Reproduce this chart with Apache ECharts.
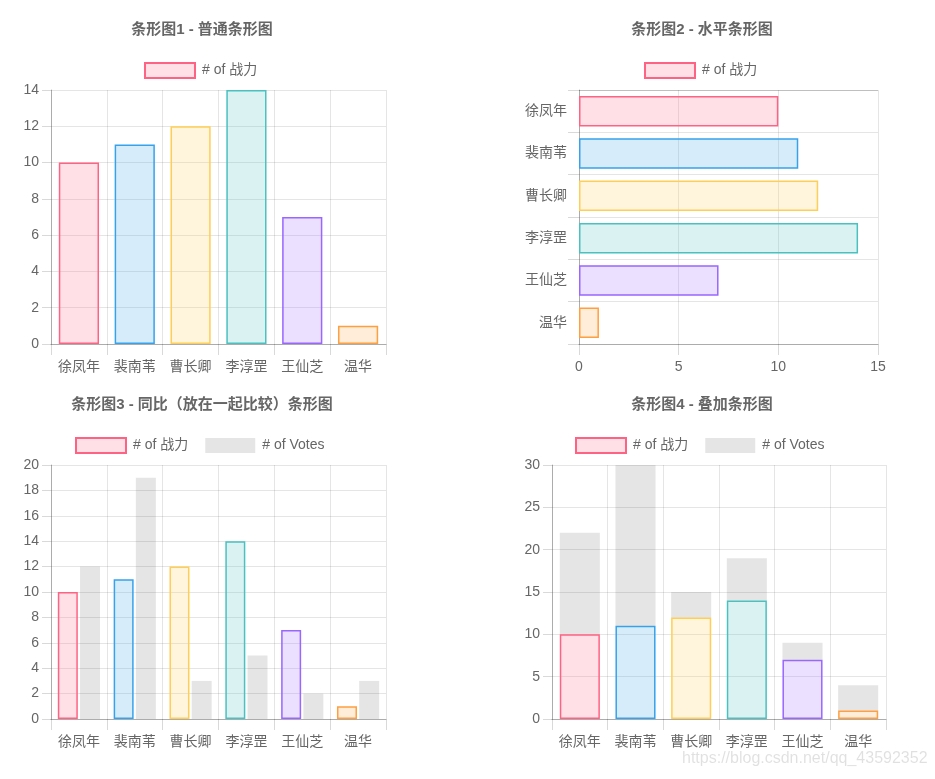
<!DOCTYPE html>
<html>
<head>
<meta charset="utf-8">
<script src="https://cdn.jsdelivr.net/npm/echarts@6/dist/echarts.min.js"></script>
<style>
  html, body { margin: 0; padding: 0; background: #fff; }
  #main { width: 935px; height: 779px; }
</style>
</head>
<body>
<div id="main"></div>
<script>
  // 数据
  const names = ['徐凤年', '裴南苇', '曹长卿', '李淳罡', '王仙芝', '温华']
  const power = [10, 11, 12, 14, 7, 1]
  const votes = [12, 19, 3, 5, 2, 3]
  const titles = ['条形图1 - 普通条形图', '条形图2 - 水平条形图', '条形图3 - 同比（放在一起比较）条形图', '条形图4 - 叠加条形图']
  const powerName = '# of 战力'
  const votesName = '# of Votes'

  // 颜色 (chart.js 常用色)
  const fills = ['rgba(255,99,132,0.2)', 'rgba(54,162,235,0.2)', 'rgba(255,206,86,0.2)',
    'rgba(75,192,192,0.2)', 'rgba(153,102,255,0.2)', 'rgba(255,159,64,0.2)']
  const borders = ['rgb(255,99,132)', 'rgb(54,162,235)', 'rgb(255,206,86)',
    'rgb(75,192,192)', 'rgb(153,102,255)', 'rgb(255,159,64)']
  const gray = 'rgba(0,0,0,0.1)'
  const grid = 'rgba(0,0,0,0.1)'
  const tick = 'rgba(0,0,0,0.15)'
  const axisDark = 'rgba(0,0,0,0.25)'
  const font = 'Liberation Sans, Arial, Noto Sans CJK SC, sans-serif'

  const chart = echarts.init(document.getElementById('main'))

  // 每个柱子单独颜色
  const colored = (vals) => vals.map((v, i) => ({
    value: v,
    itemStyle: { color: fills[i], borderColor: borders[i], borderWidth: 1.5 }
  }))
  const powerStyle = { color: fills[0], borderColor: borders[0], borderWidth: 1.5 }

  const catAxis = (gridIndex) => ({
    type: 'category',
    gridIndex,
    data: names,
    axisLine: { lineStyle: { color: axisDark } },
    axisTick: { show: true, length: 11, lineStyle: { color: tick } },
    axisLabel: { color: '#666', fontSize: 14, fontFamily: font, margin: 16 },
    splitLine: { show: true, lineStyle: { color: grid } }
  })
  const valAxis = (gridIndex, max, interval) => ({
    type: 'value',
    gridIndex,
    min: 0,
    max,
    interval,
    axisLine: { show: true, lineStyle: { color: axisDark } },
    axisTick: { show: true, length: 9, lineStyle: { color: tick } },
    axisLabel: { color: '#666', fontSize: 14, fontFamily: font, margin: 12 },
    splitLine: { lineStyle: { color: grid } }
  })

  const titleAt = (text, x, y) => ({
    text,
    left: x,
    top: y,
    padding: 0,
    textAlign: 'center',
    textStyle: { color: '#666', fontSize: 15, fontWeight: 'bold', fontFamily: font }
  })
  const legendAt = (data, x, y) => ({
    data,
    left: x,
    top: y,
    padding: 0,
    icon: 'rect',
    itemWidth: 50,
    itemHeight: 15,
    itemGap: 17,
    textStyle: { color: '#666', fontSize: 14, fontFamily: font, padding: [0, 0, 0, 2] }
  })

  // 水平图 y 轴：顶部线深一些
  const hSplit = [axisDark].concat(names.map(() => grid))

  const option = {
    animation: false,
    title: [
      titleAt(titles[0], 202, 22),
      titleAt(titles[1], 702, 22),
      titleAt(titles[2], 202, 397),
      titleAt(titles[3], 702, 397)
    ],
    legend: [
      legendAt([powerName], 144, 62),
      legendAt([powerName], 644, 62),
      legendAt([powerName, votesName], 75, 437),
      legendAt([powerName, votesName], 575, 437)
    ],
    grid: [
      { left: 51, top: 90, width: 335, height: 254 },
      { left: 579, top: 90, width: 299, height: 254 },
      { left: 51, top: 465, width: 335, height: 254 },
      { left: 552, top: 465, width: 334, height: 254 }
    ],
    xAxis: [
      catAxis(0),
      Object.assign(valAxis(1, 15, 5), {
        axisTick: { show: true, length: 11, lineStyle: { color: tick } },
        axisLabel: { color: '#666', fontSize: 14, fontFamily: font, margin: 16 }
      }),
      catAxis(2),
      catAxis(3)
    ],
    yAxis: [
      valAxis(0, 14, 2),
      Object.assign(catAxis(1), {
        inverse: true,
        axisTick: { show: true, length: 11, lineStyle: { color: tick } },
        axisLabel: { color: '#666', fontSize: 14, fontFamily: font, margin: 12 },
        splitLine: { show: true, lineStyle: { color: hSplit } }
      }),
      valAxis(2, 20, 2),
      valAxis(3, 30, 5)
    ],
    series: [
      {
        name: powerName, type: 'bar', xAxisIndex: 0, yAxisIndex: 0,
        barWidth: '72%', itemStyle: powerStyle, data: colored(power)
      },
      {
        name: powerName, type: 'bar', xAxisIndex: 1, yAxisIndex: 1,
        barWidth: '72%', itemStyle: powerStyle, data: colored(power)
      },
      {
        name: powerName, type: 'bar', xAxisIndex: 2, yAxisIndex: 2,
        barWidth: 20, barGap: '11%', itemStyle: powerStyle, data: colored(power)
      },
      {
        name: votesName, type: 'bar', xAxisIndex: 2, yAxisIndex: 2,
        barWidth: 20, barGap: '11%', itemStyle: { color: gray }, data: votes
      },
      {
        name: powerName, type: 'bar', xAxisIndex: 3, yAxisIndex: 3, stack: 'total',
        barWidth: '72%', itemStyle: powerStyle, data: colored(power)
      },
      {
        name: votesName, type: 'bar', xAxisIndex: 3, yAxisIndex: 3, stack: 'total',
        barWidth: '72%', itemStyle: { color: gray }, data: votes
      }
    ],
    graphic: [{
      type: 'text',
      left: 682,
      top: 751,
      style: {
        text: 'https://blog.csdn.net/qq_43592352',
        fill: 'rgba(0,0,0,0.12)',
        font: '16px ' + font
      }
    }]
  }
  chart.setOption(option)
</script>
</body>
</html>
